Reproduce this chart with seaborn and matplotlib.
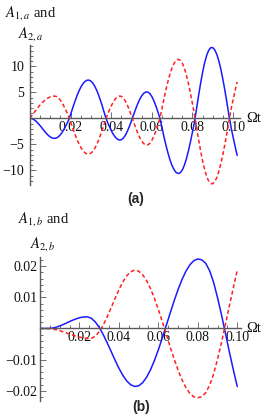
import numpy as np
import seaborn as sns
import matplotlib.pyplot as plt
from matplotlib.ticker import FixedLocator, MultipleLocator, FuncFormatter

# ---- data ----
# panel (a): time grid in steps of 0.001
t_a = np.arange(0, 103) * 0.001
blue_a = [0.00, -0.06, -0.25, -0.56, -0.95, -1.41, -1.90, -2.40, -2.86, -3.26,
          -3.57, -3.77, -3.85, -3.78, -3.53, -3.13, -2.57, -1.90, -1.15, -0.33,
          0.75, 1.97, 3.13, 4.21, 5.17, 5.98, 6.62, 7.07, 7.32, 7.36,
          7.17, 6.74, 6.10, 5.26, 4.25, 3.10, 1.84, 0.53, -0.57, -1.49,
          -2.33, -3.05, -3.61, -3.99, -4.16, -4.10, -3.78, -3.20, -2.42, -1.47,
          -0.43, 0.68, 1.77, 2.77, 3.65, 4.34, 4.82, 5.07, 5.06, 4.77,
          4.20, 3.38, 2.37, 1.22, 0.00, -1.82, -3.59, -5.25, -6.75, -8.06,
          -9.12, -9.91, -10.41, -10.60, -10.44, -9.91, -9.01, -7.78, -6.26, -4.52,
          -2.61, -0.61, 1.83, 4.37, 6.75, 8.88, 10.70, 12.11, 13.09, 13.59,
          13.59, 13.15, 12.28, 11.01, 9.39, 7.45, 5.28, 2.93, 0.49, -1.70,
          -3.60, -5.40, -7.10]
red_a = [0.00, 0.56, 1.10, 1.63, 2.13, 2.59, 3.01, 3.38, 3.70, 3.95,
         4.13, 4.25, 4.29, 4.21, 3.94, 3.48, 2.87, 2.12, 1.28, 0.37,
         -0.69, -1.83, -2.92, -3.92, -4.82, -5.57, -6.17, -6.59, -6.82, -6.86,
         -6.68, -6.29, -5.69, -4.90, -3.96, -2.89, -1.72, -0.50, 0.59, 1.53,
         2.40, 3.14, 3.72, 4.11, 4.29, 4.23, 3.89, 3.30, 2.49, 1.52,
         0.44, -0.68, -1.78, -2.79, -3.67, -4.37, -4.85, -5.10, -5.09, -4.80,
         -4.22, -3.40, -2.38, -1.23, 0.00, 1.95, 3.84, 5.62, 7.23, 8.63,
         9.77, 10.62, 11.15, 11.35, 11.18, 10.61, 9.65, 8.33, 6.71, 4.84,
         2.80, 0.65, -1.68, -4.03, -6.23, -8.20, -9.87, -11.18, -12.08, -12.54,
         -12.55, -12.14, -11.34, -10.17, -8.67, -6.88, -4.87, -2.71, -0.46, 1.70,
         3.60, 5.40, 7.00]

# panel (b): time grid in steps of 0.002, values in units of 1e-3
t_b = np.arange(0, 51) * 0.002
blue_b = [0.00, 0.00, 0.00, 0.09, 0.37, 0.80, 1.33, 1.92, 2.50, 3.03,
          3.43, 3.68, 3.74, 3.28, 2.13, 0.38, -1.88, -4.49, -7.28, -10.09,
          -12.72, -15.02, -16.83, -18.05, -18.58, -18.38, -17.40, -15.67, -13.27, -10.28,
          -6.83, -3.04, 0.94, 4.96, 8.85, 12.48, 15.69, 18.37, 20.41, 21.73,
          22.28, 22.00, 20.90, 18.50, 14.80, 9.90, 4.40, -1.50, -7.50, -13.20,
          -18.60]
red_b = [0.00, 0.00, -0.02, -0.14, -0.38, -0.71, -1.11, -1.56, -2.00, -2.41,
         -2.76, -3.02, -3.17, -3.16, -2.51, -1.07, 1.02, 3.63, 6.54, 9.55,
         12.42, 14.95, 16.92, 18.20, 18.70, 18.37, 17.25, 15.37, 12.82, 9.69,
         6.10, 2.20, -1.85, -5.90, -9.79, -13.35, -16.46, -18.99, -20.82, -21.91,
         -22.19, -21.85, -20.60, -18.20, -14.60, -9.90, -4.50, 1.30, 7.20, 13.00,
         18.70]

x_ticks = [0.02, 0.04, 0.06, 0.08, 0.10]
y_ticks_a = [-10, -5, 5, 10]
y_ticks_b = [-0.02, -0.01, 0.01, 0.02]

BLUE = '#1a1aff'
RED = '#ff2020'
AXIS_GRAY = '#5a5a5a'
W, H = 263, 420

sns.set_style("white")
plt.rcParams['font.family'] = ['Liberation Serif', 'DejaVu Serif']
plt.rcParams['mathtext.fontset'] = 'stix'

fig = plt.figure(figsize=(W / 100, H / 100), dpi=100)


def px_axes(left, top, right, bottom):
    return fig.add_axes([left / W, 1 - bottom / H, (right - left) / W, (bottom - top) / H])


def minus(s):
    return s.replace('-', '\u2212')


def style_axes(ax, xmax, ylim, yticks, yminor, yfmt, ypad):
    ax.set_xlim(0, xmax)
    ax.set_ylim(*ylim)
    ax.set_facecolor('none')
    for s in ['top', 'right']:
        ax.spines[s].set_visible(False)
    for s in ['left', 'bottom']:
        ax.spines[s].set_position(('data', 0))
        ax.spines[s].set_color(AXIS_GRAY)
        ax.spines[s].set_linewidth(1.0)
    ax.xaxis.set_major_locator(FixedLocator(x_ticks))
    ax.xaxis.set_minor_locator(MultipleLocator(0.005))
    ax.yaxis.set_major_locator(FixedLocator(yticks))
    ax.yaxis.set_minor_locator(MultipleLocator(yminor))
    ax.xaxis.set_major_formatter(FuncFormatter(lambda v, p: f'{v:.2f}'))
    ax.yaxis.set_major_formatter(FuncFormatter(lambda v, p: minus(yfmt.format(v))))
    ax.tick_params(which='both', direction='in', color=AXIS_GRAY, width=0.6,
                   bottom=True, left=True, top=False, right=False,
                   labelsize=10, labelcolor='#111111')
    ax.tick_params(which='major', length=4)
    ax.tick_params(which='minor', length=2)
    ax.tick_params(axis='x', pad=2)
    ax.tick_params(axis='y', pad=ypad)
    ax.set_xlabel('')
    ax.set_ylabel('')


# ---- panel (a) ----
ax1 = px_axes(30, 45, 240, 185)
sns.lineplot(x=t_a, y=blue_a, ax=ax1, color=BLUE, linewidth=1.1, estimator=None, sort=False)
sns.lineplot(x=t_a, y=red_a, ax=ax1, color=RED, linewidth=1.1, estimator=None, sort=False,
             linestyle=(0, (2.6, 1.7)))
style_axes(ax1, 0.1034, (-12.8, 14.1), y_ticks_a, 1, '{:.0f}', 4)

# ---- panel (b) ----
ax2 = px_axes(40, 256.7, 241, 401)
sns.lineplot(x=t_b, y=np.array(blue_b) * 1e-3, ax=ax2, color=BLUE, linewidth=1.1,
             estimator=None, sort=False)
sns.lineplot(x=t_b, y=np.array(red_b) * 1e-3, ax=ax2, color=RED, linewidth=1.1,
             estimator=None, sort=False, linestyle=(0, (2.6, 1.7)))
style_axes(ax2, 0.1019, (-0.02324, 0.0230), y_ticks_b, 0.002, '{:.2f}', 2)

# ---- labels ----
lab = dict(fontsize=10.5, color='#111111', va='baseline', ha='left')
fig.text(5 / W, 1 - 16 / H, r'$A_{1,a}$ and', **lab)
fig.text(18 / W, 1 - 37 / H, r'$A_{2,a}$', **lab)
fig.text(18 / W, 1 - 222 / H, r'$A_{1,b}$ and', **lab)
fig.text(30 / W, 1 - 247 / H, r'$A_{2,b}$', **lab)
fig.text(246 / W, 1 - 118 / H, '\u03a9t', fontsize=10.5, color='#111111', va='center', ha='left')
fig.text(246 / W, 1 - 328 / H, '\u03a9t', fontsize=10.5, color='#111111', va='center', ha='left')
fig.text(136 / W, 1 - 199 / H, '(a)', family=['Liberation Sans', 'DejaVu Sans'],
         weight='bold', fontsize=10, ha='center', va='center')
fig.text(141 / W, 1 - 407.5 / H, '(b)', family=['Liberation Sans', 'DejaVu Sans'],
         weight='bold', fontsize=10, ha='center', va='center')

fig.savefig('out.png', dpi=100, facecolor='white')
